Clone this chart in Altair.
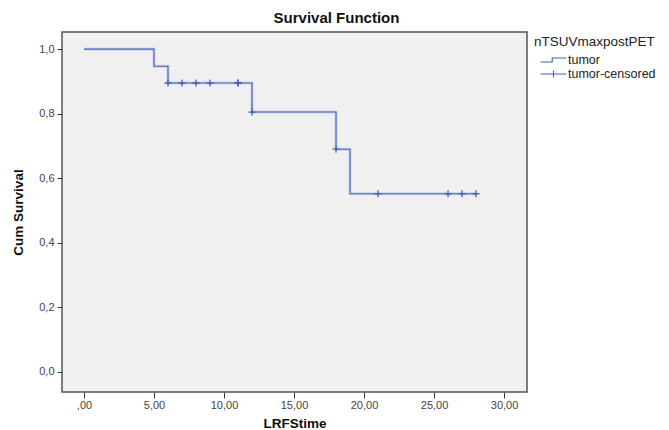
import altair as alt
import pandas as pd

# Kaplan-Meier step curve
step_time = [0, 5, 6, 12, 18, 19, 28]
step_surv = [1.0, 0.947, 0.895, 0.805, 0.690, 0.552, 0.552]

# Censored observations
cens_time = [6, 7, 8, 9, 11, 11, 12, 18, 21, 26, 27, 28]
cens_surv = [0.895, 0.895, 0.895, 0.895, 0.895, 0.895, 0.805, 0.690, 0.552, 0.552, 0.552, 0.552]

legend_labels = ["tumor", "tumor-censored"]
x_ticks = [0, 5, 10, 15, 20, 25, 30]
y_ticks = [0.0, 0.2, 0.4, 0.6, 0.8, 1.0]

steps = pd.DataFrame({"t": step_time, "s": step_surv, "g": "tumor"})
cens = pd.DataFrame({"t": cens_time, "s": cens_surv, "g": "tumor-censored"})
leg = pd.DataFrame({"t": [step_time[0], cens_time[0]], "s": [step_surv[0], cens_surv[0]], "g": legend_labels})

BLUE = "#4560b8"
FONT = "Liberation Sans"
PLUS = "M-1,0H1M0,-1V1"

xs = alt.Scale(domain=[-1.57, 31.64], nice=False, zero=False)
ys = alt.Scale(domain=[-0.062, 1.053], nice=False, zero=False)

xaxis = alt.Axis(
    values=x_ticks, title="LRFStime",
    labelExpr="datum.value == 0 ? ',00' : replace(format(datum.value, '.2f'), '.', ',')",
)
yaxis = alt.Axis(
    values=y_ticks, title="Cum Survival",
    labelExpr="replace(format(datum.value, '.1f'), '.', ',')",
)

halo = alt.Chart(steps).mark_line(
    interpolate="step-after", color="#9fb0e0", strokeWidth=3, opacity=0.45
).encode(
    x=alt.X("t:Q", scale=xs, axis=xaxis),
    y=alt.Y("s:Q", scale=ys, axis=yaxis),
)

line = alt.Chart(steps).mark_line(
    interpolate="step-after", color=BLUE, strokeWidth=1.1
).encode(
    x=alt.X("t:Q", scale=xs),
    y=alt.Y("s:Q", scale=ys),
)

pts = alt.Chart(cens).mark_point(
    shape=PLUS, filled=False, color=BLUE, strokeWidth=1.3, size=49, opacity=1
).encode(
    x=alt.X("t:Q", scale=xs),
    y=alt.Y("s:Q", scale=ys),
)

# invisible layer that only carries the legend
legend_layer = alt.Chart(leg).mark_point(
    filled=False, color=BLUE, opacity=0, size=1
).encode(
    x=alt.X("t:Q", scale=xs),
    y=alt.Y("s:Q", scale=ys),
    shape=alt.Shape(
        "g:N",
        scale=alt.Scale(
            domain=legend_labels,
            range=["M-2,0.3H-0.2V-0.3H2", "M-2,0H2M0,-0.55V0.55"],
        ),
        legend=alt.Legend(
            title="nTSUVmaxpostPET",
            orient="none", legendX=472, legendY=3,
            titleFont=FONT, titleFontSize=13.5, titleFontWeight="normal",
            titleColor="#222", titlePadding=4,
            labelFont=FONT, labelFontSize=12.5, labelColor="#222",
            symbolStrokeColor=BLUE, symbolFillColor="transparent",
            symbolStrokeWidth=1.1, symbolSize=169, symbolOffset=12,
            symbolOpacity=1,
            rowPadding=-4, labelOffset=7, padding=0,
        ),
    ),
)

chart = alt.layer(halo, line, pts, legend_layer).properties(
    width=465, height=360,
    autosize=alt.AutoSizeParams(type="none"),
    padding={"left": 54, "top": 24, "right": 134, "bottom": 38},
    title=alt.TitleParams(
        "Survival Function", font=FONT, fontSize=15, fontWeight="bold",
        color="#111", anchor="middle", dx=42, offset=6,
    ),
).configure_view(
    fill="#f0f0f0", stroke="#555555", strokeWidth=1.5
).configure_axis(
    grid=False, domain=False, ticks=True, tickColor="#333", tickSize=5,
    labelFont=FONT, labelFontSize=11, labelColor="#444",
    titleFont=FONT, titleFontSize=13.5, titleFontWeight="bold", titleColor="#111",
).configure_axisX(
    labelPadding=1, titlePadding=6, tickSize=6,
).configure_axisY(
    labelPadding=3, titlePadding=13,
)

chart.save("out.html", embed_options={"renderer": "svg", "actions": False})
